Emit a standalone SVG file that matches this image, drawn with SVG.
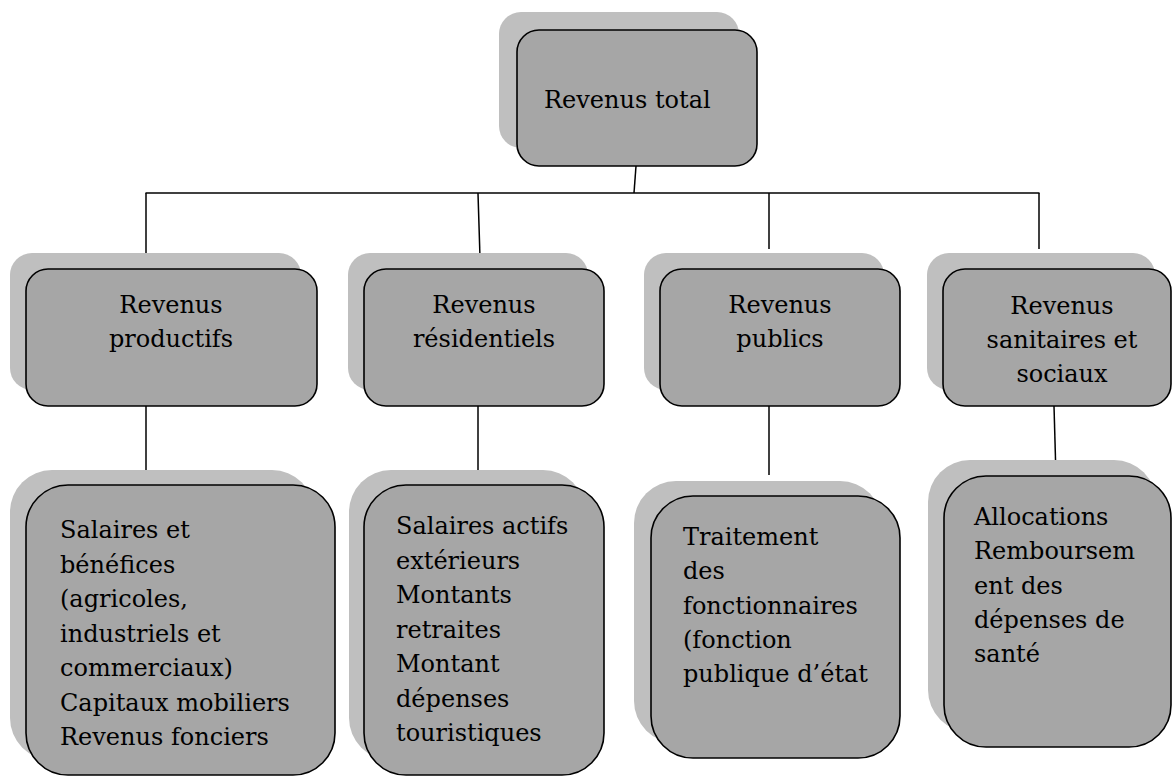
<svg xmlns="http://www.w3.org/2000/svg" width="1173" height="776" viewBox="0 0 1173 776">
<style>
.sh{fill:#bfbfbf;stroke:none}
.bx{fill:#a6a6a6;stroke:#000;stroke-width:1.6}
.t{font-family:"DejaVu Serif","Liberation Serif",serif;font-size:24px;fill:#000}
.c{text-anchor:middle}
.ln{stroke:#000;stroke-width:1.5;fill:none}
</style>
<rect width="1173" height="776" fill="#fff"/>
<g id="connectors">
<line class="ln" x1="636" y1="166" x2="634" y2="193"/>
<line class="ln" x1="145.5" y1="193" x2="1039.5" y2="193"/>
<line class="ln" x1="146" y1="193" x2="146" y2="258"/>
<line class="ln" x1="478" y1="193" x2="480" y2="258"/>
<line class="ln" x1="769" y1="193" x2="769" y2="249"/>
<line class="ln" x1="1039" y1="193" x2="1039" y2="249"/>
<line class="ln" x1="146" y1="406" x2="146" y2="475"/>
<line class="ln" x1="478" y1="406" x2="478" y2="475"/>
<line class="ln" x1="769" y1="406" x2="769" y2="475"/>
<line class="ln" x1="1054" y1="406" x2="1056" y2="477"/>
</g>
<g id="total">
<rect class="sh" x="499" y="12" width="240" height="136" rx="22"/>
<rect class="bx" x="517" y="30" width="240" height="136" rx="22"/>
<text class="t" x="544" y="108">Revenus total</text>
</g>
<g id="productifs">
<rect class="sh" x="10" y="253" width="291" height="137" rx="22"/>
<rect class="bx" x="26" y="269" width="291" height="137" rx="22"/>
<text class="t c" x="171" y="313">Revenus</text>
<text class="t c" x="171" y="347">productifs</text>
</g>
<g id="residentiels">
<rect class="sh" x="348" y="253" width="240" height="137" rx="22"/>
<rect class="bx" x="364" y="269" width="240" height="137" rx="22"/>
<text class="t c" x="484" y="313">Revenus</text>
<text class="t c" x="484" y="347">résidentiels</text>
</g>
<g id="publics">
<rect class="sh" x="644" y="253" width="240" height="137" rx="22"/>
<rect class="bx" x="660" y="269" width="240" height="137" rx="22"/>
<text class="t c" x="780" y="313">Revenus</text>
<text class="t c" x="780" y="347">publics</text>
</g>
<g id="sanitaires">
<rect class="sh" x="927" y="253" width="228" height="137" rx="22"/>
<rect class="bx" x="943" y="269" width="228" height="137" rx="22"/>
<text class="t c" x="1062" y="314">Revenus</text>
<text class="t c" x="1062" y="348">sanitaires et</text>
<text class="t c" x="1062" y="382">sociaux</text>
</g>
<g id="detail-productifs">
<rect class="sh" x="10" y="470" width="304" height="290" rx="42"/>
<rect class="bx" x="26" y="485" width="309" height="290" rx="42"/>
<text class="t" x="60" y="538">Salaires et</text>
<text class="t" x="60" y="572.5">bénéfices</text>
<text class="t" x="60" y="607">(agricoles,</text>
<text class="t" x="60" y="641.5">industriels et</text>
<text class="t" x="60" y="676">commerciaux)</text>
<text class="t" x="60" y="710.5">Capitaux mobiliers</text>
<text class="t" x="60" y="745">Revenus fonciers</text>
</g>
<g id="detail-residentiels">
<rect class="sh" x="349" y="470" width="236" height="290" rx="42"/>
<rect class="bx" x="364" y="485" width="240" height="290" rx="42"/>
<text class="t" x="396" y="534">Salaires actifs</text>
<text class="t" x="396" y="568.5">extérieurs</text>
<text class="t" x="396" y="603">Montants</text>
<text class="t" x="396" y="637.5">retraites</text>
<text class="t" x="396" y="672">Montant</text>
<text class="t" x="396" y="706.5">dépenses</text>
<text class="t" x="396" y="741">touristiques</text>
</g>
<g id="detail-publics">
<rect class="sh" x="634" y="481" width="248" height="262" rx="42"/>
<rect class="bx" x="651" y="496" width="249" height="262" rx="42"/>
<text class="t" x="683" y="545">Traitement</text>
<text class="t" x="683" y="579">des</text>
<text class="t" x="683" y="613.5">fonctionnaires</text>
<text class="t" x="683" y="648">(fonction</text>
<text class="t" x="683" y="682">publique d’état</text>
</g>
<g id="detail-sanitaires">
<rect class="sh" x="928" y="460" width="228" height="272" rx="42"/>
<rect class="bx" x="944" y="476" width="227" height="271" rx="42"/>
<text class="t" x="974" y="525">Allocations</text>
<text class="t" x="974" y="559">Remboursem</text>
<text class="t" x="974" y="593.5">ent des</text>
<text class="t" x="974" y="628">dépenses de</text>
<text class="t" x="974" y="662">santé</text>
</g>
</svg>
